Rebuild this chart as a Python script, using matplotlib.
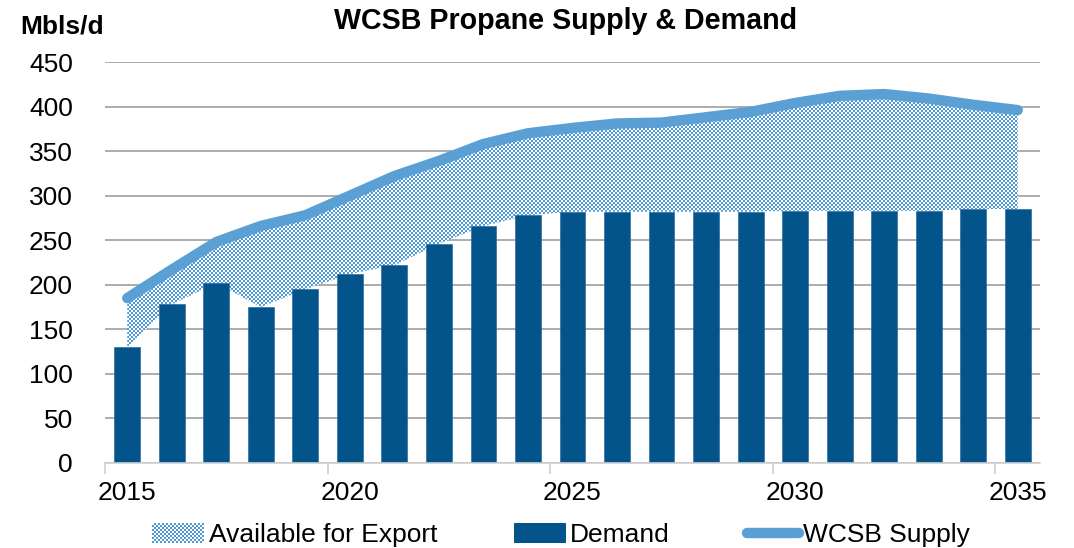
import numpy as np
import matplotlib
matplotlib.use("Agg")
import matplotlib.pyplot as plt
from matplotlib.patches import Rectangle, Patch
from matplotlib.lines import Line2D
from matplotlib.legend_handler import HandlerBase

plt.rcParams['font.family'] = ['Liberation Sans', 'DejaVu Sans']

years = list(range(2015, 2036))
demand = [130, 178, 202, 175, 195, 212, 222, 246, 266, 278, 282, 282, 282, 282, 282,
          283, 283, 283, 283, 285, 285]
supply = [185, 217, 248, 266, 278, 300, 322, 339, 358, 370, 376, 381, 382, 388, 394,
          404, 412, 414, 409, 402, 396]
tick_years = [2015, 2020, 2025, 2030, 2035]
yticks = [0, 50, 100, 150, 200, 250, 300, 350, 400, 450]

BAR = '#02548A'
LINE = '#5AA0D4'
DOT = '#4F9AD6'
GRID = '#A6A6A6'

W, H = 1074, 548
AX_W, AX_H = 935, 401
fig = plt.figure(figsize=(W / 100, H / 100), dpi=100)
ax = fig.add_axes([105 / W, (H - 463) / H, AX_W / W, AX_H / H])

x = np.arange(len(years))


def checker(h, w, cell=2):
    ii, jj = np.indices((h, w))
    m = ((ii // cell + jj // cell) % 2) == 0
    img = np.ones((h, w, 4))
    img[m] = matplotlib.colors.to_rgba(DOT)
    return img


poly = ax.fill_between(x, demand, supply, facecolor='none', edgecolor='none', lw=0, zorder=1.5)
path = poly.get_paths()[0]
im = ax.imshow(checker(AX_H, AX_W), extent=(-0.5, 20.5, 0, 450), aspect='auto',
               interpolation='nearest', zorder=1.5)
im.set_clip_path(path, transform=ax.transData)

ax.bar(x, demand, width=0.58, color=BAR, zorder=2, edgecolor='#2F6E9E', linewidth=0.5)
ax.plot(x, supply, color=LINE, lw=7.5, solid_capstyle='round', solid_joinstyle='round', zorder=3)

ax.set_xlim(-0.5, 20.5)
ax.set_ylim(0, 450)
ax.set_yticks(yticks)
ax.yaxis.grid(True, color=GRID, lw=1.3, zorder=1)
ax.set_axisbelow(True)
ax.tick_params(axis='y', length=0, pad=23, labelsize=19)

ax.set_xticks([i - 0.5 for i in range(0, 21, 5)])
ax.set_xticklabels([])
ax.set_xticks([years.index(t) for t in tick_years], minor=True)
ax.set_xticklabels([str(t) for t in tick_years], minor=True)
ax.tick_params(axis='x', which='major', length=8, width=1.2, color='#D0D0D0')
ax.tick_params(axis='x', which='minor', length=0, pad=13, labelsize=19)

for s in ['top', 'right', 'left']:
    ax.spines[s].set_visible(False)
ax.spines['bottom'].set_color('#D0D0D0')
ax.spines['bottom'].set_linewidth(1.2)

fig.text(566 / W, 1 - 21 / H, 'WCSB Propane Supply & Demand', ha='center', va='center',
         fontsize=20.6, fontweight='bold')
fig.text(20 / W, 1 - 26 / H, 'Mbls/d', ha='left', va='center', fontsize=19, fontweight='bold')


class HandlerChecker(HandlerBase):
    def create_artists(self, legend, orig_handle, xdescent, ydescent, width, height,
                       fontsize, trans):
        arts = []
        cell = 1.44  # points ~ 2 px
        nx = int(width / cell)
        ny = int(height / cell)
        for i in range(ny):
            for j in range(nx):
                if (i + j) % 2 == 0:
                    r = Rectangle((-xdescent + j * cell, -ydescent + i * cell), cell, cell,
                                  facecolor=DOT, edgecolor='none', transform=trans,
                                  antialiased=False)
                    arts.append(r)
        return arts


h1 = Patch(label='Available for Export')
h2 = Patch(facecolor=BAR, label='Demand')
h3 = Line2D([], [], color=LINE, lw=7.5, solid_capstyle='round', label='WCSB Supply')
leg = fig.legend(handles=[h1, h2, h3], loc='center', bbox_to_anchor=(561 / W, 1 - 535 / H),
                 ncol=3, frameon=False, fontsize=19, handlelength=2.0, handleheight=0.8,
                 handletextpad=0.15, columnspacing=2.9,
                 handler_map={h1: HandlerChecker()})

fig.savefig('out.png', dpi=100)
